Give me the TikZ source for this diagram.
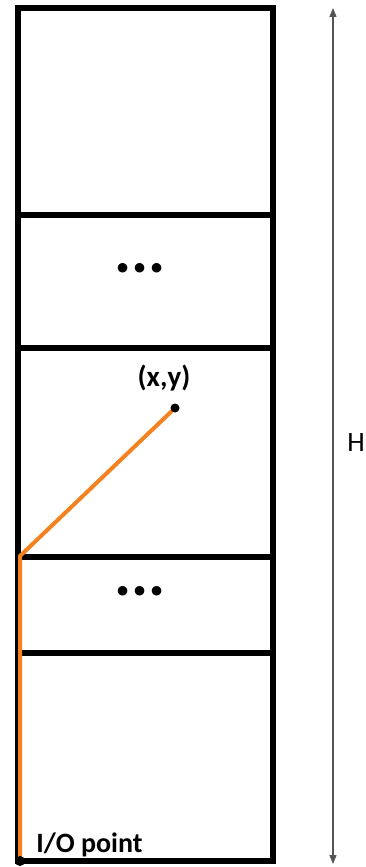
\documentclass[tikz,border=0pt]{standalone}
\usepackage{fontspec}
\setmainfont{Carlito}
\usetikzlibrary{arrows.meta}
\definecolor{pathorange}{HTML}{F58220}
\definecolor{dimgray}{HTML}{555555}

\begin{document}
\begin{tikzpicture}[x=1pt,y=-1pt,line width=6pt]
  \useasboundingbox (0,0) rectangle (366,867);
  % rack outline and shelf dividers
  \coordinate (nw) at (18,8);
  \coordinate (se) at (273,861);
  \draw (nw) rectangle (se);
  \foreach \y in {215,348,557,653}{ \draw (18,\y) -- (273,\y); }
  % skipped shelves
  \node[font=\bfseries\fontsize{64}{64}\selectfont] (dotsA) at (140,268) {...};
  \node[font=\bfseries\fontsize{64}{64}\selectfont] (dotsB) at (140,591) {...};
  % height arrow
  \coordinate (htop) at (333,8);
  \coordinate (hbot) at (333,864);
  \draw[dimgray, line width=1.3pt, {Triangle[length=9pt,width=7pt]}-{Triangle[length=9pt,width=7pt]}] (htop) -- (hbot);
  \node[font=\fontsize{28}{28}\selectfont] (hlabel) at (356,443) {H};
  % travel path from the I/O point
  \coordinate (io) at (20,861);
  \coordinate (bend) at (20,556);
  \coordinate (xy) at (175,408);
  \draw[pathorange, line width=4pt, line join=round] (io) -- (bend) -- (xy);
  \fill (xy) circle[radius=4.5pt];
  \fill (io) circle[radius=5pt];
  \node[font=\bfseries\fontsize{29}{29}\selectfont] (xylabel) at (164,378) {(x,y)};
  \node[anchor=west, font=\bfseries\fontsize{28}{28}\selectfont] (iolabel) at (30,845) {I/O point};
\end{tikzpicture}
\end{document}
